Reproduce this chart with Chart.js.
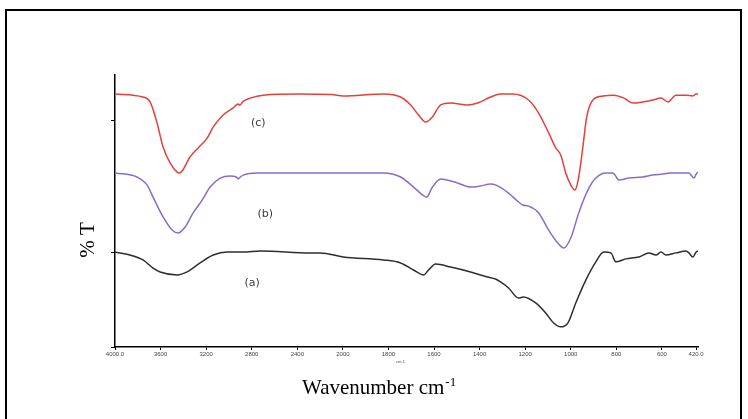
<!DOCTYPE html>
<html>
<head>
<meta charset="utf-8">
<script src="https://cdn.jsdelivr.net/npm/chart.js@4.4.0/dist/chart.umd.min.js"></script>
<style>
  html, body { margin: 0; padding: 0; background: #fff; }
  canvas { display: block; }
</style>
</head>
<body>
<canvas id="ftir" width="748" height="419"></canvas>
<script>
// tick labels along the wavenumber axis (scale changes at 2000)
const tickLabels = ['4000.0', '3600', '3200', '2800', '2400', '2000', '1800', '1600', '1400', '1200', '1000', '800', '600', '420.0'];
const tickWavenumbers = [4000, 3600, 3200, 2800, 2400, 2000, 1800, 1600, 1400, 1200, 1000, 800, 600, 420];

// (c) red spectrum
const wnC = [4000, 3754, 3692, 3631, 3578, 3516, 3455, 3433, 3411, 3341, 3270, 3191, 3138, 3051, 2963, 2919, 2905, 2875, 2813, 2699, 2374, 2100, 1998, 1822, 1747, 1703, 1668, 1637, 1607, 1571, 1527, 1453, 1409, 1352, 1308, 1255, 1185, 1141, 1097, 1066, 1044, 1022, 1000, 982, 965, 947, 930, 903, 859, 811, 767, 727, 684, 640, 604, 568, 526, 473, 437, 420, 410];
const tC = [93.0, 91.9, 90.1, 82.4, 73.5, 67.6, 64.3, 64.0, 64.7, 69.9, 73.2, 76.8, 80.9, 85.3, 87.9, 89.3, 88.9, 90.3, 91.5, 92.6, 93.0, 92.8, 92.3, 93.0, 91.9, 89.0, 85.3, 82.7, 84.6, 89.0, 89.7, 89.0, 89.7, 91.9, 93.0, 93.0, 90.8, 86.0, 78.7, 73.2, 70.6, 64.0, 59.6, 57.7, 62.5, 73.5, 84.6, 90.8, 92.3, 92.6, 91.5, 89.7, 90.1, 90.8, 91.5, 90.1, 92.6, 92.6, 92.3, 93.0, 93.0];

// (b) purple spectrum
const wnB = [4000, 3807, 3719, 3666, 3578, 3499, 3446, 3385, 3314, 3235, 3165, 3077, 2989, 2935, 2919, 2900, 2875, 2752, 2374, 1967, 1822, 1747, 1690, 1651, 1633, 1607, 1571, 1497, 1440, 1396, 1352, 1330, 1273, 1229, 1211, 1185, 1141, 1097, 1057, 1031, 1000, 965, 925, 890, 846, 815, 789, 745, 684, 640, 595, 552, 489, 458, 431, 420, 410];
const tB = [64.0, 62.5, 59.6, 55.1, 47.8, 43.0, 41.9, 44.1, 49.3, 54.0, 58.8, 62.1, 62.9, 62.5, 61.8, 62.5, 63.2, 64.0, 64.0, 64.0, 64.0, 62.5, 58.8, 55.9, 55.1, 58.8, 61.8, 60.3, 58.8, 59.2, 59.9, 59.6, 56.6, 53.3, 52.2, 51.8, 49.3, 43.0, 38.2, 36.4, 40.1, 49.3, 57.7, 62.1, 64.0, 64.0, 61.4, 62.1, 62.5, 63.2, 63.6, 64.0, 64.0, 64.0, 62.1, 63.5, 64.3];

// (a) black spectrum
const wnA = [4000, 3868, 3754, 3666, 3604, 3455, 3367, 3253, 3138, 3015, 2875, 2725, 2286, 2198, 1998, 1822, 1747, 1690, 1646, 1624, 1593, 1527, 1440, 1365, 1330, 1308, 1273, 1229, 1207, 1154, 1110, 1075, 1044, 1013, 978, 934, 890, 855, 824, 802, 758, 701, 657, 626, 604, 579, 526, 473, 458, 437, 420, 410];
const tA = [34.9, 33.8, 32.0, 29.0, 27.6, 26.5, 27.6, 30.9, 33.8, 34.9, 34.9, 35.3, 34.6, 34.6, 33.1, 32.0, 30.9, 28.3, 26.5, 28.3, 30.5, 29.4, 27.6, 25.7, 25.0, 23.9, 21.7, 18.0, 18.4, 16.2, 12.5, 8.8, 7.4, 8.8, 16.2, 24.6, 31.3, 34.9, 34.6, 31.3, 32.4, 33.1, 34.6, 33.8, 34.9, 33.8, 34.6, 35.3, 34.6, 33.1, 34.9, 35.3];

// the axis is drawn in "tick slots": equal spacing per labelled tick, last gap shorter
const slots = tickWavenumbers.map((w, i) => i < tickWavenumbers.length - 1 ? i : i - 0.25);

function toSlot(wn) {
    let i = 0;
    while (i < tickWavenumbers.length - 2 && wn < tickWavenumbers[i + 1]) i++;
    const w0 = tickWavenumbers[i], w1 = tickWavenumbers[i + 1];
    return slots[i] + (w0 - wn) / (w0 - w1) * (slots[i + 1] - slots[i]);
}

function series(wn, t) {
    return wn.map((w, i) => ({ x: toSlot(w), y: t[i] }));
}

const seriesLabels = [
    { text: '(c)', wn: 2743, t: 82.4 },
    { text: '(b)', wn: 2681, t: 48.9 },
    { text: '(a)', wn: 2796, t: 23.5 }
];

const decorations = {
    id: 'decorations',
    afterDraw(chart) {
        const ctx = chart.ctx;
        const xs = chart.scales.x, ys = chart.scales.y;
        ctx.save();
        // outer frame
        ctx.strokeStyle = '#000';
        ctx.lineWidth = 2;
        ctx.strokeRect(6, 10, 735, 430);

        // series labels
        ctx.fillStyle = '#3a3a3a';
        ctx.font = '11px "DejaVu Sans"';
        ctx.textAlign = 'center';
        ctx.textBaseline = 'middle';
        seriesLabels.forEach(l => {
            ctx.fillText(l.text, xs.getPixelForValue(toSlot(l.wn)), ys.getPixelForValue(l.t));
        });

        // y title
        ctx.fillStyle = '#000';
        ctx.font = '21px "Liberation Serif"';
        ctx.save();
        ctx.translate(88, 240);
        ctx.rotate(-Math.PI / 2);
        ctx.fillText('% T', 0, 0);
        ctx.restore();

        // x title with superscript
        ctx.textAlign = 'left';
        ctx.textBaseline = 'alphabetic';
        ctx.font = '21px "Liberation Serif"';
        ctx.fillText('Wavenumber cm', 302, 394);
        const w = ctx.measureText('Wavenumber cm').width;
        ctx.font = '13px "Liberation Serif"';
        ctx.fillText('-1', 302 + w + 1, 386);

        // tiny unit mark under the axis
        ctx.font = '4px "Liberation Sans"';
        ctx.fillStyle = '#555';
        ctx.fillText('cm-1', 396, 363);
        ctx.restore();
    }
};

new Chart(document.getElementById('ftir'), {
    type: 'line',
    data: {
        datasets: [
            { label: '(c)', data: series(wnC, tC), borderColor: '#e2413b', borderWidth: 1.5 },
            { label: '(b)', data: series(wnB, tB), borderColor: '#8a6cc6', borderWidth: 1.5 },
            { label: '(a)', data: series(wnA, tA), borderColor: '#2e2e2e', borderWidth: 1.5 }
        ]
    },
    options: {
        responsive: false,
        animation: false,
        layout: { padding: { left: 0, top: 75, right: 50, bottom: 0 } },
        elements: {
            point: { radius: 0 },
            line: { cubicInterpolationMode: 'monotone', fill: false }
        },
        plugins: { legend: { display: false }, tooltip: { enabled: false } },
        scales: {
            x: {
                type: 'linear',
                min: 0,
                max: toSlot(410),
                afterBuildTicks: axis => { axis.ticks = slots.map(v => ({ value: v })); },
                afterFit: scale => { scale.height = 72; },
                grid: { drawOnChartArea: false, color: '#000', tickLength: 3 },
                border: { color: '#000', width: 1.5 },
                ticks: {
                    autoSkip: false,
                    maxRotation: 0,
                    padding: 1,
                    color: '#444',
                    font: { family: 'Liberation Sans', size: 6 },
                    callback: (v, i) => tickLabels[i]
                }
            },
            y: {
                min: 0,
                max: 100,
                afterBuildTicks: axis => { axis.ticks = [0, 34.9, 83.1].map(v => ({ value: v })); },
                afterFit: scale => { scale.width = 115; },
                grid: { drawOnChartArea: false, color: '#000', tickLength: 4 },
                border: { color: '#000', width: 1.5 },
                ticks: { display: false }
            }
        }
    },
    plugins: [decorations]
});
</script>
</body>
</html>
